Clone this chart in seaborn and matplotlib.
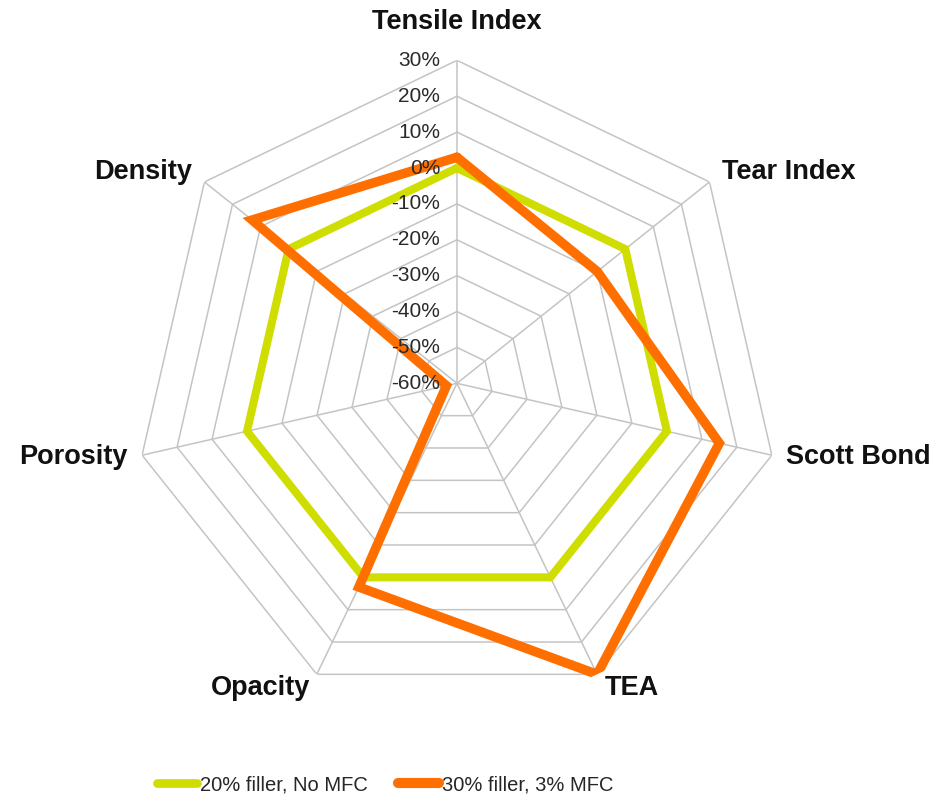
import numpy as np
import pandas as pd
import matplotlib
matplotlib.use("Agg")
import matplotlib.pyplot as plt
from matplotlib.lines import Line2D
import seaborn as sns

categories = ["Tensile Index", "Tear Index", "Scott Bond", "TEA", "Opacity", "Porosity", "Density"]
series_names = ["20% filler, No MFC", "30% filler, 3% MFC"]
values_no_mfc = [0, 0, 0, 0, 0, 0, 0]
values_mfc = [3, -10, 15, 30, 3, -57, 13]
tick_values = [30, 20, 10, 0, -10, -20, -30, -40, -50, -60]

colors = {"20% filler, No MFC": "#CFDE00", "30% filler, 3% MFC": "#FF6F00"}
widths = {"20% filler, No MFC": 5.8, "30% filler, 3% MFC": 6.8}
grid_color = "#C4C4C4"

sns.set_theme(style="white")
plt.rcParams["font.family"] = ["Liberation Sans", "DejaVu Sans"]

n = len(categories)
thetas = np.linspace(0, 2 * np.pi, n, endpoint=False)
thetas_closed = np.append(thetas, 2 * np.pi)

rows = []
for name, vals in zip(series_names, [values_no_mfc, values_mfc]):
    closed = list(vals) + [vals[0]]
    for i, (t, v) in enumerate(zip(thetas_closed, closed)):
        rows.append({"series": name, "theta": t, "value": v, "order": i})
df = pd.DataFrame(rows)

fig = plt.figure(figsize=(9.5, 8.1), dpi=100)
fig.patch.set_facecolor("white")
ax = fig.add_axes([0.141, 0.128, 0.68, 0.7975], projection="polar")
ax.set_theta_zero_location("N")
ax.set_theta_direction(-1)
ax.set_ylim(-60, 30)
ax.grid(False)
ax.spines["polar"].set_visible(False)
ax.set_xticks([])
ax.set_yticks([])
ax.set_facecolor("white")

# polygon grid
for lv in tick_values[:-1]:
    ax.plot(thetas_closed, [lv] * len(thetas_closed), color=grid_color, lw=1.1, zorder=1)
for t in thetas:
    ax.plot([t, t], [-60, 30], color=grid_color, lw=1.1, zorder=1)

# data lines
for name in series_names:
    sub = df[df["series"] == name]
    sns.lineplot(data=sub, x="theta", y="value", sort=False, estimator=None,
                 color=colors[name], lw=widths[name], ax=ax, legend=False,
                 solid_joinstyle="miter", zorder=3)
ax.set_xlabel("")
ax.set_ylabel("")
ax.set_xticks([])
ax.set_yticks([])
ax.set_ylim(-60, 30)

# radial tick labels
for lv in tick_values:
    ax.annotate(f"{lv}%", xy=(0, lv), xytext=(-12, 0), textcoords="offset points",
                ha="right", va="center", fontsize=15, color="#2a2a2a", zorder=4)

# category labels (pixel centres measured on the reference)
label_pos = {
    "Tensile Index": (457, 22),
    "Tear Index": (789, 172),
    "Scott Bond": (858, 457),
    "TEA": (632, 688),
    "Opacity": (261, 688),
    "Porosity": (73, 457),
    "Density": (143, 172),
}
W, H = 950, 810
for cat in categories:
    x, y = label_pos[cat]
    fig.text(x / W, 1 - y / H, cat, ha="center", va="center", fontsize=19.5,
             fontweight="bold", color="#111111")

handles = [Line2D([0], [0], color=colors[s], lw=widths[s] + 0.5, solid_capstyle="round")
           for s in series_names]
fig.legend(handles, series_names, loc="center", bbox_to_anchor=(385 / W, 1 - 785 / H),
           ncol=2, frameon=False, fontsize=14.5, handlelength=2.0, handletextpad=0.15,
           columnspacing=1.5)

fig.savefig("out.png", dpi=100, facecolor="white")
